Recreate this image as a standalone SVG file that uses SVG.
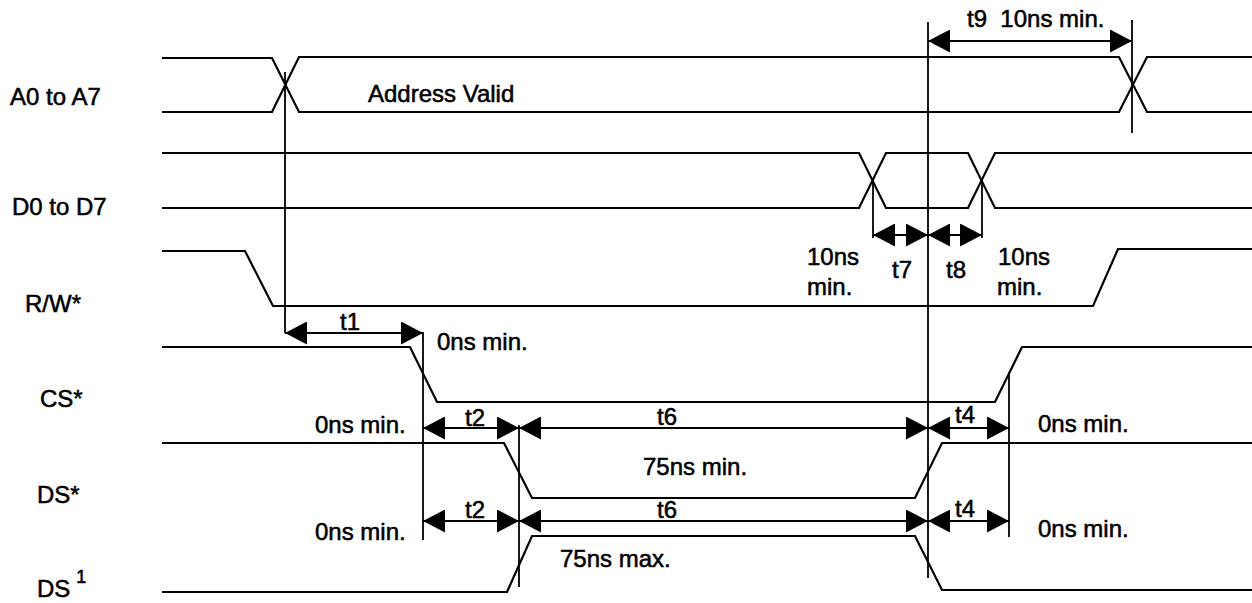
<svg xmlns="http://www.w3.org/2000/svg" width="1252" height="603" viewBox="0 0 1252 603">
<style>
  .sig { fill: none; stroke: #000; stroke-width: 2.2; stroke-linejoin: miter; }
  .ref { fill: none; stroke: #000; stroke-width: 1.8; }
  .dim { fill: none; stroke: #000; stroke-width: 1.8; marker-start: url(#ah); marker-end: url(#ah); }
  text { font-family: "Liberation Sans", Arial, sans-serif; font-size: 24px; fill: #000; stroke: #000; stroke-width: 0.55; }
</style>
<defs>
  <marker id="ah" markerUnits="userSpaceOnUse" markerWidth="22" markerHeight="23" refX="22" refY="11.5" orient="auto-start-reverse" viewBox="0 0 22 23">
    <path d="M0,0 L22,11.5 L0,23 Z" fill="#000"/>
  </marker>
</defs>
<rect width="1252" height="603" fill="#fff"/>

<g id="sig-a">
  <text x="10" y="105">A0 to A7</text>
  <path class="sig" d="M162,58 H272 L299,112 H1119 L1147,57 H1252"/>
  <path class="sig" d="M162,112 H272 L299,57 H1119 L1147,112 H1252"/>
  <text x="368" y="102">Address Valid</text>
</g>

<g id="sig-d">
  <text x="12" y="215">D0 to D7</text>
  <path class="sig" d="M162,153 H859 L886,208 H968 L995,153 H1252"/>
  <path class="sig" d="M162,208 H859 L886,153 H968 L995,208 H1252"/>
</g>

<g id="sig-rw">
  <text x="25" y="312">R/W*</text>
  <path class="sig" d="M162,251 H245 L273,306 H1093 L1118,249 H1252"/>
</g>

<g id="sig-cs">
  <text x="40" y="407">CS*</text>
  <path class="sig" d="M162,347 H410 L437,402 H995 L1022,347 H1252"/>
</g>

<g id="sig-ds">
  <text x="37" y="503">DS*</text>
  <path class="sig" d="M162,443 H504 L532,498 H915 L942,443 H1252"/>
</g>

<g id="sig-ds1">
  <text x="37" y="597">DS<tspan dx="6" dy="-14" font-size="18">1</tspan></text>
  <path class="sig" d="M162,592 H507 L532,536 H915 L942,590 H1252"/>
</g>

<g id="connectors">
  <path class="ref" d="M285,72 V333"/>
  <path class="ref" d="M423,332 V540"/>
  <path class="ref" d="M519,425 V587"/>
  <path class="ref" d="M928,22 V578"/>
  <path class="ref" d="M1009,372 V537"/>
  <path class="ref" d="M1132,20 V133"/>
  <path class="ref" d="M873,180 V238"/>
  <path class="ref" d="M982,180 V238"/>
  <path class="dim" d="M285,333 H423"/>
  <path class="dim" d="M423,428 H519"/>
  <path class="dim" d="M519,428 H928"/>
  <path class="dim" d="M928,428 H1009"/>
  <path class="dim" d="M423,521 H519"/>
  <path class="dim" d="M519,521 H928"/>
  <path class="dim" d="M928,521 H1009"/>
  <path class="dim" d="M873,235 H928"/>
  <path class="dim" d="M928,235 H982"/>
  <path class="dim" d="M928,41 H1132"/>
</g>

<g id="labels">
  <text x="967" y="27" xml:space="preserve">t9  10ns min.</text>
  <text x="807" y="265">10ns<tspan x="807" y="295">min.</tspan></text>
  <text x="892" y="278">t7</text>
  <text x="946" y="278">t8</text>
  <text x="998" y="265">10ns<tspan x="997" y="295">min.</tspan></text>
  <text x="340" y="330">t1</text>
  <text x="437" y="350">0ns min.</text>
  <text x="315" y="433">0ns min.</text>
  <text x="465" y="426">t2</text>
  <text x="657" y="425">t6</text>
  <text x="955" y="423">t4</text>
  <text x="1038" y="432">0ns min.</text>
  <text x="643" y="475">75ns min.</text>
  <text x="315" y="540">0ns min.</text>
  <text x="465" y="518">t2</text>
  <text x="657" y="518">t6</text>
  <text x="955" y="517">t4</text>
  <text x="1038" y="537">0ns min.</text>
  <text x="560" y="567">75ns max.</text>
</g>
</svg>
